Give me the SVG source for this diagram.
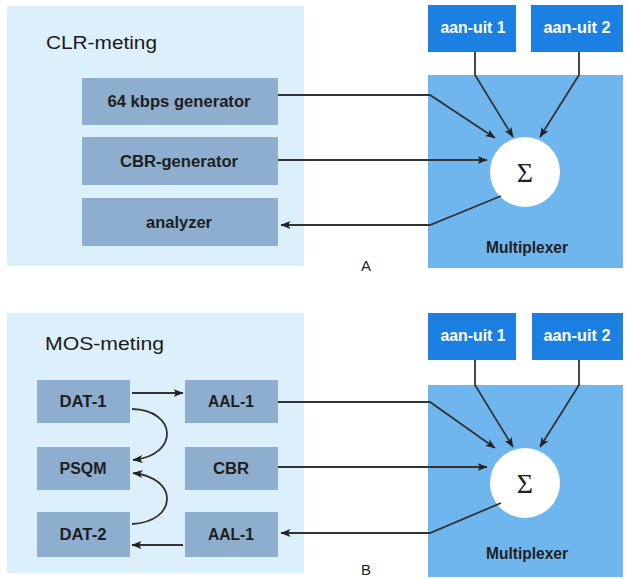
<svg xmlns="http://www.w3.org/2000/svg" width="626" height="579" viewBox="0 0 626 579">
<defs>
<style>
.panel{fill:#dcf0fb}
.box{fill:#8eaed0}
.mux{fill:#6fb6ee}
.sw{fill:#1c80e2}
.circ{fill:#ffffff}
.lbl{font-family:"Liberation Sans",Arial,sans-serif;font-weight:700;font-size:16px;fill:#1e1e1e;text-anchor:middle}
.swl{font-family:"Liberation Sans",Arial,sans-serif;font-weight:700;font-size:16px;fill:#ffffff;text-anchor:middle}
.title{font-family:"Liberation Sans",Arial,sans-serif;font-weight:400;font-size:18px;fill:#1a1a1a}
.sig{font-family:"Liberation Serif","Times New Roman",serif;font-size:28px;fill:#222;text-anchor:middle}
.cap{font-family:"Liberation Sans",Arial,sans-serif;font-size:15px;fill:#222;text-anchor:middle}
.ln{fill:none;stroke:#333;stroke-width:1.8}
</style>
<marker id="ah" viewBox="0 0 10 8" refX="9.5" refY="4" markerWidth="10" markerHeight="8" markerUnits="userSpaceOnUse" orient="auto">
<path d="M0,0 L10,4 L0,8 L2.5,4 Z" fill="#222"/>
</marker>
</defs>

<!-- Panel A -->
<g id="panelA">
<rect class="panel" x="7" y="6" width="297" height="260"/>
<text class="title" x="46" y="49" textLength="111" lengthAdjust="spacingAndGlyphs">CLR-meting</text>
</g>
<g id="gen64"><rect class="box" x="82" y="78" width="196" height="47"/><text class="lbl" x="179" y="107" textLength="143" lengthAdjust="spacingAndGlyphs">64 kbps generator</text></g>
<g id="cbrgen"><rect class="box" x="82" y="137" width="196" height="48"/><text class="lbl" x="179" y="167" textLength="118" lengthAdjust="spacingAndGlyphs">CBR-generator</text></g>
<g id="analyzer"><rect class="box" x="82" y="198" width="196" height="48"/><text class="lbl" x="179" y="228" textLength="66" lengthAdjust="spacingAndGlyphs">analyzer</text></g>
<g id="muxA"><rect class="mux" x="428" y="75" width="195" height="193"/><text class="lbl" x="527" y="253" textLength="82" lengthAdjust="spacingAndGlyphs">Multiplexer</text></g>
<g id="sumA"><circle class="circ" cx="525" cy="172" r="35"/><text class="sig" x="525" y="182">Σ</text></g>
<g id="swA1"><rect class="sw" x="428" y="5" width="88" height="47"/><text class="swl" x="473" y="33" textLength="65" lengthAdjust="spacingAndGlyphs">aan-uit 1</text></g>
<g id="swA2"><rect class="sw" x="531" y="5" width="92" height="47"/><text class="swl" x="577" y="33" textLength="67" lengthAdjust="spacingAndGlyphs">aan-uit 2</text></g>
<text class="cap" x="366" y="271">A</text>

<!-- Panel B -->
<g id="panelB">
<rect class="panel" x="7" y="313" width="297" height="260"/>
<text class="title" x="45" y="350" textLength="119" lengthAdjust="spacingAndGlyphs">MOS-meting</text>
</g>
<g id="dat1"><rect class="box" x="37" y="380" width="93" height="43"/><text class="lbl" x="83" y="407" textLength="47" lengthAdjust="spacingAndGlyphs">DAT-1</text></g>
<g id="aal1a"><rect class="box" x="185" y="380" width="93" height="43"/><text class="lbl" x="231" y="407" textLength="46" lengthAdjust="spacingAndGlyphs">AAL-1</text></g>
<g id="psqm"><rect class="box" x="37" y="447" width="93" height="43"/><text class="lbl" x="83" y="474" textLength="47" lengthAdjust="spacingAndGlyphs">PSQM</text></g>
<g id="cbr"><rect class="box" x="185" y="447" width="93" height="43"/><text class="lbl" x="231" y="474" textLength="36" lengthAdjust="spacingAndGlyphs">CBR</text></g>
<g id="dat2"><rect class="box" x="37" y="512" width="93" height="45"/><text class="lbl" x="83" y="540" textLength="47" lengthAdjust="spacingAndGlyphs">DAT-2</text></g>
<g id="aal1b"><rect class="box" x="185" y="512" width="93" height="45"/><text class="lbl" x="231" y="540" textLength="46" lengthAdjust="spacingAndGlyphs">AAL-1</text></g>
<g id="muxB"><rect class="mux" x="428" y="385" width="195" height="192"/><text class="lbl" x="527" y="559" textLength="82" lengthAdjust="spacingAndGlyphs">Multiplexer</text></g>
<g id="sumB"><circle class="circ" cx="525" cy="483" r="35"/><text class="sig" x="525" y="493">Σ</text></g>
<g id="swB1"><rect class="sw" x="428" y="313" width="88" height="47"/><text class="swl" x="473" y="341" textLength="65" lengthAdjust="spacingAndGlyphs">aan-uit 1</text></g>
<g id="swB2"><rect class="sw" x="532" y="313" width="91" height="47"/><text class="swl" x="577" y="341" textLength="67" lengthAdjust="spacingAndGlyphs">aan-uit 2</text></g>
<text class="cap" x="366" y="575">B</text>

<!-- Connectors -->
<g id="connectors">
<path class="ln" d="M278,95 H430 L495,138" marker-end="url(#ah)"/>
<path class="ln" d="M278,160 H487" marker-end="url(#ah)"/>
<path class="ln" d="M501,196 L430,225 H281" marker-end="url(#ah)"/>
<path class="ln" d="M475,52 V75 L513,137" marker-end="url(#ah)"/>
<path class="ln" d="M579,52 V75 L540,137" marker-end="url(#ah)"/>

<path class="ln" d="M278,402 H430 L495,448" marker-end="url(#ah)"/>
<path class="ln" d="M278,467 H487" marker-end="url(#ah)"/>
<path class="ln" d="M501,503 L430,533 H281" marker-end="url(#ah)"/>
<path class="ln" d="M475,360 V385 L513,447" marker-end="url(#ah)"/>
<path class="ln" d="M579,360 V385 L540,447" marker-end="url(#ah)"/>

<path class="ln" d="M132,393 H183" marker-end="url(#ah)"/>
<path class="ln" d="M183,545 H132" marker-end="url(#ah)"/>
<path class="ln" d="M132,409 C177,410 180,455 133,460" marker-end="url(#ah)"/>
<path class="ln" d="M132,524 C177,522 180,478 133,473" marker-end="url(#ah)"/>
</g>
</svg>
